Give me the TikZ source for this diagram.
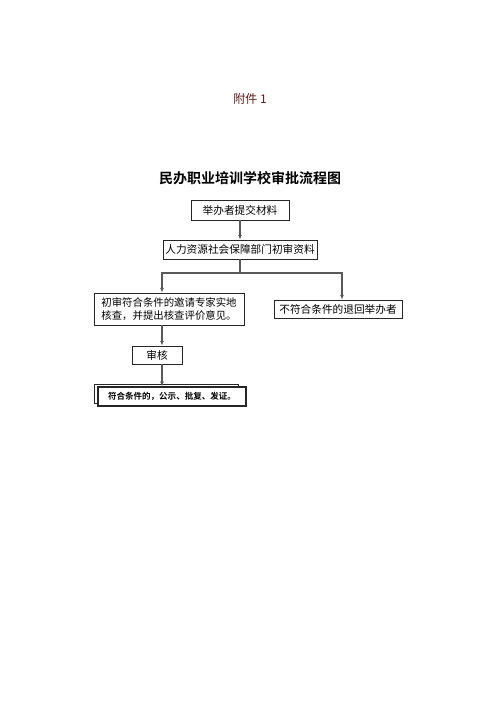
\documentclass[tikz,border=0pt]{standalone}
\usepackage{fontspec}
\setmainfont{Noto Sans CJK SC}[BoldFont={Noto Sans CJK SC Bold}]
\usepackage{tikz}
\usetikzlibrary{calc,arrows.meta,positioning}
\definecolor{hdr}{RGB}{96,28,28}
\tikzset{
  box/.style={draw=black!85,line width=0.6pt,inner sep=1pt,font=\fontsize{8}{10}\selectfont},
  lnk/.style={draw=black!65,line width=0.8pt},
  tip/.style={-{Latex[length=3.5pt,width=3pt]}},
}

\begin{document}
\begin{tikzpicture}[x=0.75pt,y=-0.75pt]
    \useasboundingbox[fill=white] (0,0) rectangle (496,702);
    \node[text=hdr,font=\fontsize{9}{11}\selectfont] at (250,99) (hd) {附件 1};
    \node[font=\fontsize{10.5}{12}\selectfont\bfseries] at (250,178) (tt) {民办职业培训学校审批流程图};
%
    \node[box,minimum width=73.5pt,minimum height=15pt] at (240,210) (b1) {举办者提交材料};
    \node[box,minimum width=115.5pt,minimum height=14.25pt] at (240,249.5) (b2) {人力资源社会保障部门初审资料};
    \node[box,minimum width=112.5pt,minimum height=24pt,align=left,font=\fontsize{7.8}{9.5}\selectfont] at (169,309) (b3) {初审符合条件的邀请专家实地\\核查，并提出核查评价意见。};
    \node[box,minimum width=96pt,minimum height=13.5pt] at (338,309) (b4) {不符合条件的退回举办者};
    \node[box,minimum width=37.5pt,minimum height=13.5pt] at (157,355) (b5) {审核};
%   two rectangles, one behind the other
    \draw[black!85,line width=0.5pt] (94,384) rectangle (238,403);
    \node[box,fill=white,line width=1pt,minimum width=111pt,minimum height=14.25pt,font=\fontsize{6.4}{8}\selectfont\bfseries] at (172,396.5) (b6) {符合条件的，公示、批复、发证。};
%
    \coordinate (j) at (240,273);
    \coordinate (jl) at (162,273);
    \coordinate (jr) at (342,273);
    \draw[lnk,tip] (b1) -- (b2);
    \draw[lnk] (b2) -- (j);
    \draw[lnk,tip] (j) -- (jl) -- (jl |- b3.north);
    \draw[lnk,tip] (j) -- (jr) -- (jr |- b4.north);
    \draw[lnk,tip] (jl |- b3.south) -- (jl |- b5.north);
    \draw[lnk,tip] (jl |- b5.south) -- (jl |- b6.north);
  \end{tikzpicture}
\end{document}
